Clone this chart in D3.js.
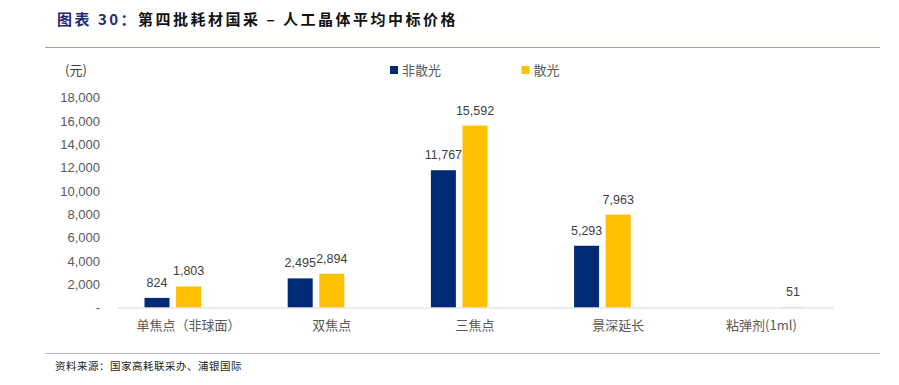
<!DOCTYPE html>
<html><head><meta charset="utf-8">
<script src="https://cdn.jsdelivr.net/npm/d3@7"></script>
<style>
body{margin:0;background:#fff;}
svg{display:block;}
</style></head>
<body>
<svg id="chart" width="899" height="385"></svg>
<script>
const categories = ["单焦点（非球面）", "双焦点", "三焦点", "景深延长", "粘弹剂(1ml)"];
const seriesNames = ["非散光", "散光", "其他"];
const nonAstig = [824, 2495, 11767, 5293, null];
const astig = [1803, 2894, 15592, 7963, null];
const other = [null, null, null, null, 51];
const yTicks = [0, 2000, 4000, 6000, 8000, 10000, 12000, 14000, 16000, 18000];
const yTickLabels = ["-", "2,000", "4,000", "6,000", "8,000", "10,000", "12,000", "14,000", "16,000", "18,000"];
const colors = ["#002A75", "#FFC000", "#D0D0D0"];
const legendNames = ["非散光", "散光"];

const svg = d3.select("#chart");
const numFont = "'Liberation Sans', Arial, sans-serif";
const cjkFont = "'Noto Sans CJK SC', sans-serif";

// Title
const title = svg.append("text").attr("x", 57).attr("y", 25)
  .attr("font-family", cjkFont).attr("font-size", 15).attr("font-weight", "bold")
  .attr("letter-spacing", "2.5px");
title.append("tspan").attr("fill", "#1F2A7A").text("图表 30：");
title.append("tspan").attr("fill", "#111").text("第四批耗材国采 – 人工晶体平均中标价格");

svg.append("line").attr("x1", 45).attr("x2", 880).attr("y1", 47.5).attr("y2", 47.5)
  .attr("stroke", "#9A9AC8").attr("stroke-width", 1.2);
svg.append("line").attr("x1", 45).attr("x2", 880).attr("y1", 353.5).attr("y2", 353.5)
  .attr("stroke", "#B8B8D8").attr("stroke-width", 1.2);

svg.append("text").attr("x", 55).attr("y", 369.5)
  .attr("font-family", cjkFont).attr("font-size", 10.5).attr("fill", "#222")
  .attr("letter-spacing", "0.5px")
  .text("资料来源：国家高耗联采办、浦银国际");

// Scales
const x0 = d3.scaleBand().domain(categories).range([117, 833]).padding(0);
const x1 = d3.scaleBand().domain(seriesNames).range([0, x0.bandwidth()])
  .paddingInner(0.209).paddingOuter(0.87);
const y = d3.scaleLinear().domain([0, 18000]).range([307.5, 97.5]);

// Y axis labels
const yAxis = d3.axisLeft(y).tickValues(yTicks).tickSize(0).tickPadding(0)
  .tickFormat((d, i) => yTickLabels[i]);
const yg = svg.append("g").attr("transform", "translate(100,0)").call(yAxis);
yg.select(".domain").remove();
yg.selectAll("text").attr("font-family", numFont).attr("font-size", 13).attr("fill", "#595959");

svg.append("text").attr("x", 65).attr("y", 75).attr("font-family", cjkFont)
  .attr("font-size", 13).attr("fill", "#404040").text("(元)");

// Bars
const rows = categories.map((c, i) => ({cat: c, vals: [nonAstig[i], astig[i], other[i]]}));
const g = svg.append("g");
rows.forEach(r => {
  r.vals.forEach((v, k) => {
    if (v == null) return;
    const bx = x0(r.cat) + x1(seriesNames[k]);
    g.append("rect").attr("x", bx).attr("y", y(v)).attr("width", x1.bandwidth())
      .attr("height", y(0) - y(v)).attr("fill", colors[k]);
    g.append("text").attr("x", bx + x1.bandwidth() / 2).attr("y", y(v) - 11)
      .attr("text-anchor", "middle").attr("font-family", numFont).attr("font-size", 12.5)
      .attr("fill", "#404040").text(d3.format(",")(v));
  });
});

// X axis
const xAxis = d3.axisBottom(x0).tickSize(0).tickPadding(13);
const xg = svg.append("g").attr("transform", "translate(0,307.5)").call(xAxis);
xg.select(".domain").attr("stroke", "#D9D9D9").attr("stroke-width", 1.2);
xg.selectAll("text").attr("font-family", cjkFont).attr("font-size", 13).attr("fill", "#595959");

// Legend
const legendX = [390, 521.5];
legendNames.forEach((n, i) => {
  svg.append("rect").attr("x", legendX[i]).attr("y", 66).attr("width", 8).attr("height", 8)
    .attr("fill", colors[i]);
  svg.append("text").attr("x", legendX[i] + 12).attr("y", 75).attr("font-family", cjkFont)
    .attr("font-size", 13).attr("fill", "#595959").text(n);
});
</script>
</body></html>
